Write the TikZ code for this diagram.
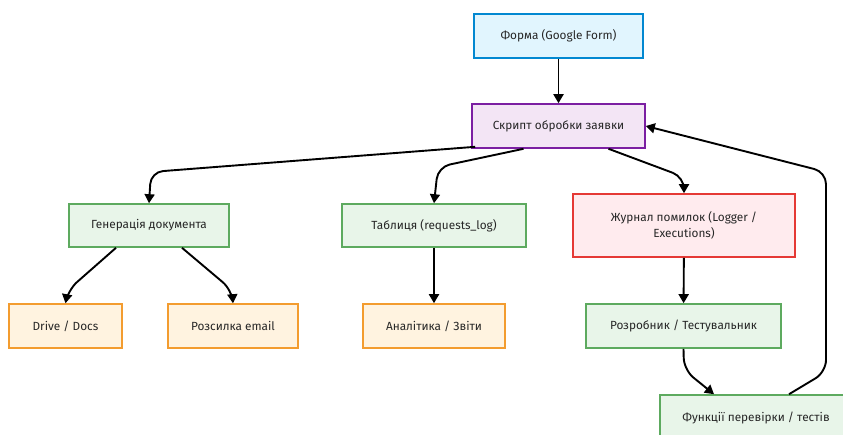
\documentclass[tikz,border=0pt]{standalone}
\usepackage{fontspec}
\setmainfont{Fira Sans}
\usetikzlibrary{arrows.meta}
\definecolor{bluefill}{HTML}{E1F5FE}
\definecolor{bluedraw}{HTML}{0288D1}
\definecolor{purpfill}{HTML}{F3E5F5}
\definecolor{purpdraw}{HTML}{7B1FA2}
\definecolor{greenfill}{HTML}{E8F5E9}
\definecolor{greendraw}{HTML}{5DAA5F}
\definecolor{redfill}{HTML}{FFEBEE}
\definecolor{reddraw}{HTML}{E53935}
\definecolor{orfill}{HTML}{FFF3E0}
\definecolor{ordraw}{HTML}{F39C2F}
\begin{document}
\begin{tikzpicture}[x=1pt,y=-1pt,
  box/.style={draw,line width=1.6pt,inner sep=0pt,align=center,font=\fontsize{11.8}{16}\selectfont,text=black!85},
  bluebox/.style={box,fill=bluefill,draw=bluedraw},
  purpbox/.style={box,fill=purpfill,draw=purpdraw},
  greenbox/.style={box,fill=greenfill,draw=greendraw},
  redbox/.style={box,fill=redfill,draw=reddraw},
  orbox/.style={box,fill=orfill,draw=ordraw},
  conn/.style={line width=1.9pt,black,-{Triangle[length=9pt,width=10pt]},rounded corners=12pt}]
\useasboundingbox (0,0) rectangle (843,434);
\fill[white] (0,0) rectangle (843,434);
\node[bluebox,minimum width=169pt,minimum height=44pt] (forma) at (558.5,36) {Форма (Google Form)};
\node[purpbox,minimum width=173pt,minimum height=44pt] (skrypt) at (558.5,126) {Скрипт обробки заявки};
\node[greenbox,minimum width=160pt,minimum height=43pt] (hen) at (149,225.5) {Генерація документа};
\node[greenbox,minimum width=184pt,minimum height=43pt] (tabl) at (434,225.5) {Таблиця (requests\_log)};
\node[redbox,minimum width=222pt,minimum height=63pt] (zhur) at (684,225.5) {Журнал помилок (Logger /\\Executions)};
\node[orbox,minimum width=113pt,minimum height=44pt] (drive) at (65.5,326) {Drive / Docs};
\node[orbox,minimum width=130pt,minimum height=44pt] (rozs) at (233,326) {Розсилка email};
\node[orbox,minimum width=142pt,minimum height=44pt] (anal) at (434,326) {Аналітика / Звіти};
\node[greenbox,minimum width=195pt,minimum height=44pt] (rozr) at (683.5,326) {Розробник / Тестувальник};
\node[greenbox,minimum width=192pt,minimum height=46pt] (func) at (756,418) {Функції перевірки / тестів};
\draw[conn] (forma) -- (skrypt);
\draw[conn] (skrypt.south west) ++(4,-2) -- (151,172) -- (hen.north);
\draw[conn] ([xshift=-35pt]skrypt.south) -- (438,167) -- (tabl.north);
\draw[conn] ([xshift=50pt]skrypt.south) -- (684,177) -- (zhur.north);
\draw[conn] ([xshift=-33pt]hen.south) -- (68,290) -- (drive.north);
\draw[conn] ([xshift=33pt]hen.south) -- (232,290) -- (rozs.north);
\draw[conn] (tabl) -- (anal);
\draw[conn] (zhur) -- (rozr);
\draw[conn] (rozr.south) -- (684,370) -- ([xshift=-42pt]func.north);
\draw[conn] ([xshift=33pt]func.north) -- (826,372) -- (826,172) -- (skrypt.east);
\end{tikzpicture}
\end{document}
